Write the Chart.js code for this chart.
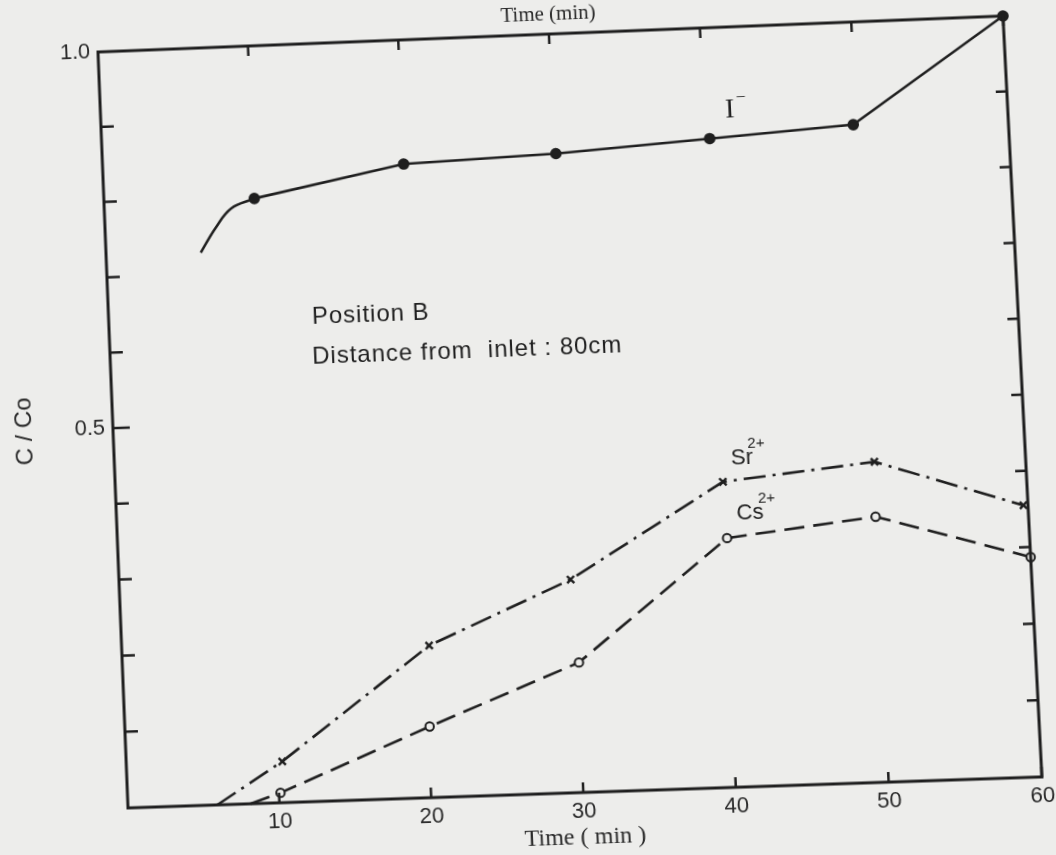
<!DOCTYPE html>
<html>
<head>
<meta charset="utf-8">
<script src="https://cdn.jsdelivr.net/npm/chart.js@4/dist/chart.umd.min.js"></script>
<style>
  html, body { margin: 0; padding: 0; background: #ededeb; overflow: hidden; }
  #wrap { position: absolute; left: 0; top: 0; width: 1056px; height: 855px; transform-origin: 0 0; }
  canvas { display: block; }
</style>
</head>
<body>
<div id="wrap"><canvas id="c" width="1056" height="855"></canvas></div>
<script>
// ---- data ----
const timeIcurve = [6.3, 7.35, 8.44, 10];
const valIcurve  = [0.728, 0.76, 0.785, 0.797];
const timeI = [10, 20, 30.1, 40.3, 49.8, 60];
const valI  = [0.797, 0.835, 0.841, 0.853, 0.864, 1.0];
const timeSr = [5.9, 10.3, 20.3, 29.8, 40.1, 50.1, 59.7];
const valSr  = [0, 0.054, 0.199, 0.279, 0.40, 0.419, 0.355];
const timeCs = [8.1, 10.1, 20.1, 30.1, 40.2, 50, 60];
const valCs  = [0, 0.013, 0.093, 0.17, 0.326, 0.347, 0.287];
const xTickValues = [10, 20, 30, 40, 50, 60];
const yTickValues = [0.1, 0.2, 0.3, 0.4, 0.5, 0.6, 0.7, 0.8, 0.9];
const yTickLabels = ['0.5', '1.0'];

// where the (scanned, slightly tilted) plot frame's corners sit on the page: TL, TR, BR, BL
const frameCorners = [[98, 52], [1003, 16], [1042, 777], [128, 808]];

const ink = '#1f1f1f';
const bg = '#ededeb';
const pts = (xs, ys) => xs.map((x, i) => ({ x: x, y: ys[i] }));

const notes = [
  { text: 'Position B', x: 13.5, y: 0.637, font: '24px "Liberation Sans"' },
  { text: 'Distance from  inlet : 80cm', x: 13.4, y: 0.584, font: '24px "Liberation Sans"' }
];
const ionLabels = [
  { base: 'I', sup: '\u2013', x: 41.4, y: 0.889, font: '28px "Liberation Serif"', supFont: '16px "Liberation Serif"', dx: 3 },
  { base: 'Sr', sup: '2+', x: 40.7, y: 0.43, font: '22px "Liberation Sans"', supFont: '15px "Liberation Sans"', dx: -5 },
  { base: 'Cs', sup: '2+', x: 40.9, y: 0.358, font: '22px "Liberation Sans"', supFont: '15px "Liberation Sans"', dx: -5 }
];

const framePlugin = {
  id: 'frame',
  afterDatasetsDraw(chart) {
    const { ctx, chartArea: a, scales: { x, y } } = chart;
    ctx.save();
    ctx.strokeStyle = ink;
    ctx.lineWidth = 3;
    ctx.strokeRect(a.left, a.top, a.right - a.left, a.bottom - a.top);
    ctx.lineWidth = 2.5;
    ctx.beginPath();
    xTickValues.forEach(v => {
      const px = x.getPixelForValue(v);
      ctx.moveTo(px, a.bottom); ctx.lineTo(px, a.bottom - 10);
      ctx.moveTo(px, a.top); ctx.lineTo(px, a.top + 10);
    });
    yTickValues.forEach(v => {
      const py = y.getPixelForValue(v);
      ctx.moveTo(a.left, py); ctx.lineTo(a.left + (Math.abs(v - 0.5) < 1e-6 ? 17 : 13), py);
      ctx.moveTo(a.right, py); ctx.lineTo(a.right - 11, py);
    });
    ctx.stroke();

    ctx.fillStyle = ink;
    ctx.textBaseline = 'middle';
    ctx.textAlign = 'left';
    notes.forEach(n => {
      ctx.font = n.font;
      ctx.letterSpacing = '1px';
      ctx.fillText(n.text, x.getPixelForValue(n.x), y.getPixelForValue(n.y));
    });
    ctx.letterSpacing = '0px';
    ionLabels.forEach(l => {
      const px = x.getPixelForValue(l.x), py = y.getPixelForValue(l.y);
      ctx.font = l.font;
      ctx.fillText(l.base, px, py);
      const w = ctx.measureText(l.base).width;
      ctx.font = l.supFont;
      ctx.fillText(l.sup, px + w + l.dx, py - 14);
    });
    ctx.restore();
  }
};

const chart = new Chart(document.getElementById('c'), {
  type: 'line',
  data: {
    datasets: [
      { label: 'I- start', data: pts(timeIcurve, valIcurve), borderColor: ink, borderWidth: 2.6,
        pointRadius: 0, tension: 0.4, clip: false },
      { label: 'I-', data: pts(timeI, valI), borderColor: ink, borderWidth: 2.6,
        pointRadius: 4.5, pointBackgroundColor: ink, pointBorderColor: ink, tension: 0, clip: false },
      { label: 'Sr2+', data: pts(timeSr, valSr), borderColor: ink, borderWidth: 2.6, borderDash: [22, 7, 3, 7],
        pointStyle: 'crossRot', pointRadius: timeSr.map((t, i) => i === 0 ? 0 : 5), pointBorderWidth: 2.4,
        pointBorderColor: ink, tension: 0, clip: false },
      { label: 'Cs2+', data: pts(timeCs, valCs), borderColor: ink, borderWidth: 2.6, borderDash: [20, 9],
        pointStyle: 'circle', pointRadius: timeCs.map((t, i) => i === 0 ? 0 : 4.2), pointBorderWidth: 2,
        pointBorderColor: ink, pointBackgroundColor: bg, tension: 0, clip: false }
    ]
  },
  options: {
    responsive: false,
    animation: false,
    devicePixelRatio: 1,
    layout: { padding: { left: 0, right: 33, top: 0, bottom: 0 } },
    plugins: { legend: { display: false }, tooltip: { enabled: false } },
    scales: {
      x: {
        type: 'linear', position: 'bottom', min: 0, max: 60,
        ticks: { stepSize: 10, padding: 6, color: '#2a2a2a', font: { family: 'Liberation Sans', size: 22 },
                 callback: v => (v === 0 ? '' : String(v)) },
        grid: { display: false, drawTicks: false },
        border: { display: false },
        title: { display: true, text: 'Time ( min )', color: '#2a2a2a',
                 font: { family: 'Liberation Serif', size: 24 }, padding: { top: 0, bottom: 2 } },
        afterFit: s => { s.height = 61; }
      },
      x2: {
        type: 'linear', position: 'top', min: 0, max: 60,
        ticks: { display: false },
        grid: { display: false, drawTicks: false },
        border: { display: false },
        title: { display: true, text: 'Time (min)', color: '#2a2a2a',
                 font: { family: 'Liberation Serif', size: 21 }, padding: { top: 4, bottom: 0 } },
        afterFit: s => { s.height = 36; }
      },
      y: {
        type: 'linear', min: 0, max: 1,
        ticks: { stepSize: 0.1, padding: 8, color: '#2a2a2a', font: { family: 'Liberation Sans', size: 22 },
                 callback: v => { const s = v.toFixed(1); return yTickLabels.includes(s) ? s : ''; } },
        grid: { display: false, drawTicks: false },
        border: { display: false },
        title: { display: true, text: 'C / Co', color: '#2a2a2a',
                 font: { family: 'Liberation Sans', size: 24 }, padding: { top: 10, bottom: 0 } },
        afterFit: s => { s.width = 113; }
      }
    }
  },
  plugins: [framePlugin]
});

// Tilt the whole page like the scan: projective map of the chart area onto the frame corners.
(function tilt() {
  const a = chart.chartArea;
  const src = [[a.left, a.top], [a.right, a.top], [a.right, a.bottom], [a.left, a.bottom]];
  const A = [], B = [];
  for (let i = 0; i < 4; i++) {
    const [x, y] = src[i], [u, v] = frameCorners[i];
    A.push([x, y, 1, 0, 0, 0, -x * u, -y * u]); B.push(u);
    A.push([0, 0, 0, x, y, 1, -x * v, -y * v]); B.push(v);
  }
  const n = 8;
  for (let c = 0; c < n; c++) {
    let p = c;
    for (let r = c + 1; r < n; r++) if (Math.abs(A[r][c]) > Math.abs(A[p][c])) p = r;
    [A[c], A[p]] = [A[p], A[c]]; [B[c], B[p]] = [B[p], B[c]];
    for (let r = 0; r < n; r++) {
      if (r === c) continue;
      const f = A[r][c] / A[c][c];
      for (let k = c; k < n; k++) A[r][k] -= f * A[c][k];
      B[r] -= f * B[c];
    }
  }
  const h = B.map((b, i) => b / A[i][i]);
  const m = [h[0], h[3], 0, h[6], h[1], h[4], 0, h[7], 0, 0, 1, 0, h[2], h[5], 0, 1];
  document.getElementById('wrap').style.transform = 'matrix3d(' + m.join(',') + ')';
})();
</script>
</body>
</html>
